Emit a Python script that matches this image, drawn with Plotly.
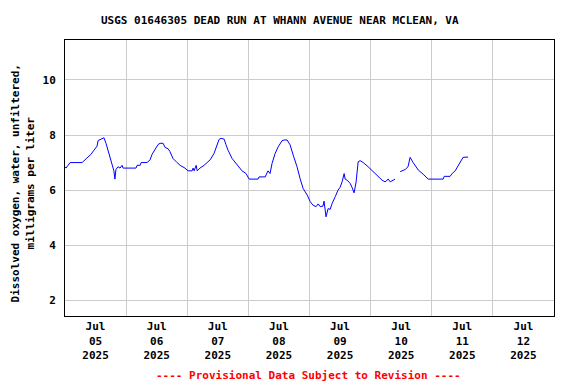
import plotly.graph_objects as go
import pandas as pd

# Hours since 2025-07-05 00:00 and dissolved oxygen (mg/L)
hours_a = [0, 0.4, 1.2, 2.0, 6.7, 7.9, 9.0, 10.2, 11.4, 12.6, 13.0, 14.1, 15.3, 16.1, 16.9,
           17.7, 18.5, 19.2, 19.6, 20.0, 20.8, 21.6, 22.4, 22.8, 27.9, 28.3, 29.5, 29.9,
           32.2, 33.4, 34.2, 35.4, 36.5, 37.3, 38.5, 39.3, 40.5, 41.2, 42.4, 44.0, 45.2,
           47.1, 48.3, 49.9, 50.3, 50.7, 51.5, 51.9, 53.0, 54.6, 55.8, 57.0, 58.5, 59.6,
           60.5, 61.3, 62.5, 63.2, 64.0, 65.6, 66.8, 68.0, 69.5, 71.1, 72.3, 75.8, 76.2,
           78.6, 79.7, 80.5, 81.3, 82.5, 83.7, 85.2, 86.0, 87.2, 88.4, 89.6, 91.1, 92.3,
           93.5, 95.1, 96.3, 97.4, 98.6, 99.4, 100.2, 101.3, 101.7, 102.5, 103.3, 104.1,
           104.9, 106.1, 107.2, 108.0, 108.8, 109.6, 110.0, 110.8, 112.0, 112.7, 113.5,
           114.3, 115.1, 115.9, 117.1, 119.0, 121.0, 122.9, 124.5, 125.7, 126.9, 127.7, 129.6]
do_a = [6.85, 6.8, 6.9, 7.0, 7.0, 7.1, 7.2, 7.3, 7.45, 7.6, 7.8, 7.85, 7.9, 7.7, 7.45,
        7.2, 7.0, 6.7, 6.4, 6.75, 6.85, 6.8, 6.9, 6.8, 6.8, 6.9, 6.9, 7.0,
        7.0, 7.1, 7.3, 7.5, 7.65, 7.7, 7.7, 7.55, 7.5, 7.4, 7.15, 7.0, 6.9,
        6.8, 6.7, 6.7, 6.8, 6.7, 6.9, 6.7, 6.8, 6.9, 7.0, 7.1, 7.33, 7.64,
        7.84, 7.88, 7.85, 7.65, 7.45, 7.15, 7.0, 6.85, 6.7, 6.6, 6.4, 6.4, 6.48,
        6.48, 6.7, 6.6, 6.97, 7.33, 7.57, 7.79, 7.82, 7.82, 7.64, 7.27, 6.85, 6.42,
        6.06, 5.82, 5.58, 5.45, 5.4, 5.5, 5.4, 5.42, 5.6, 5.03, 5.33, 5.3,
        5.52, 5.76, 6.0, 6.1, 6.3, 6.6, 6.4, 6.36, 6.24, 6.1, 5.9,
        6.3, 7.03, 7.07, 7.0, 6.85, 6.67, 6.48, 6.36, 6.3, 6.4, 6.3, 6.4]
hours_b = [131.6, 133.6, 134.7, 135.5, 136.7, 138.7, 140.6, 142.6, 148.5, 148.9, 151.2,
           152.0, 153.2, 154.4, 155.5, 156.3, 158.3]
do_b = [6.67, 6.75, 6.85, 7.19, 7.0, 6.73, 6.58, 6.4, 6.4, 6.5, 6.5,
        6.6, 6.7, 6.9, 7.05, 7.19, 7.2]

tick_days = ["2025-07-05", "2025-07-06", "2025-07-07", "2025-07-08",
             "2025-07-09", "2025-07-10", "2025-07-11", "2025-07-12"]
tick_text = ["Jul<br>05<br>2025", "Jul<br>06<br>2025", "Jul<br>07<br>2025", "Jul<br>08<br>2025",
             "Jul<br>09<br>2025", "Jul<br>10<br>2025", "Jul<br>11<br>2025", "Jul<br>12<br>2025"]
y_ticks = [2, 4, 6, 8, 10]

start = pd.Timestamp("2025-07-05 00:00")
times = ([start + pd.Timedelta(hours=h) for h in hours_a] + [None] +
         [start + pd.Timedelta(hours=h) for h in hours_b])
values = do_a + [None] + do_b

FONT = "DejaVu Sans Mono"

fig = go.Figure()
fig.add_trace(go.Scatter(x=times, y=values, mode="lines",
                         line=dict(color="#0000ff", width=1), connectgaps=False,
                         showlegend=False))

tickvals = [pd.Timestamp(d) + pd.Timedelta(hours=12) for d in tick_days]

fig.update_layout(
    width=576, height=384,
    margin=dict(l=57, r=30, t=32, b=76, autoexpand=False),
    paper_bgcolor="white", plot_bgcolor="white",
    font=dict(family=FONT, size=11, color="black", weight="bold"),
    xaxis=dict(
        type="date", automargin=False,
        range=["2025-07-05 00:00", "2025-07-13 00:00"],
        tickmode="array", tickvals=tickvals, ticktext=tick_text,
        showgrid=False, ticks="",
        tickfont=dict(family=FONT, size=11, weight="bold"),
        showline=True, linecolor="black", linewidth=1, mirror=True,
        minor=dict(tickmode="linear", tick0="2025-07-05", dtick=86400000,
                   showgrid=True, gridcolor="#cccccc", gridwidth=1, ticks=""),
        zeroline=False,
    ),
    yaxis=dict(
        automargin=False,
        range=[1.43, 11.45],
        tickmode="array", tickvals=y_ticks,
        showgrid=True, gridcolor="#cccccc", gridwidth=1,
        ticks="", ticklabelstandoff=6,
        tickfont=dict(family=FONT, size=11, weight="bold"),
        showline=True, linecolor="black", linewidth=1, mirror=True,
        zeroline=False,
    ),
)

fig.add_annotation(text="USGS 01646305 DEAD RUN AT WHANN AVENUE NEAR MCLEAN, VA",
                   xref="paper", yref="paper", x=0.44, y=1.072, showarrow=False,
                   xanchor="center", yanchor="middle",
                   font=dict(family=FONT, size=11, color="black", weight="bold"))
fig.add_annotation(text="Dissolved oxygen, water, unfiltered,<br>milligrams per liter",
                   xref="paper", yref="paper", x=-0.086, y=0.48, showarrow=False,
                   textangle=-90, xanchor="center", yanchor="middle",
                   font=dict(family=FONT, size=11, color="black", weight="bold"))
fig.add_annotation(text="---- Provisional Data Subject to Revision ----",
                   xref="paper", yref="paper", x=0.497, y=-0.214, showarrow=False,
                   xanchor="center", yanchor="middle",
                   font=dict(family=FONT, size=11, color="red", weight="bold"))

fig.write_html("out.html")
